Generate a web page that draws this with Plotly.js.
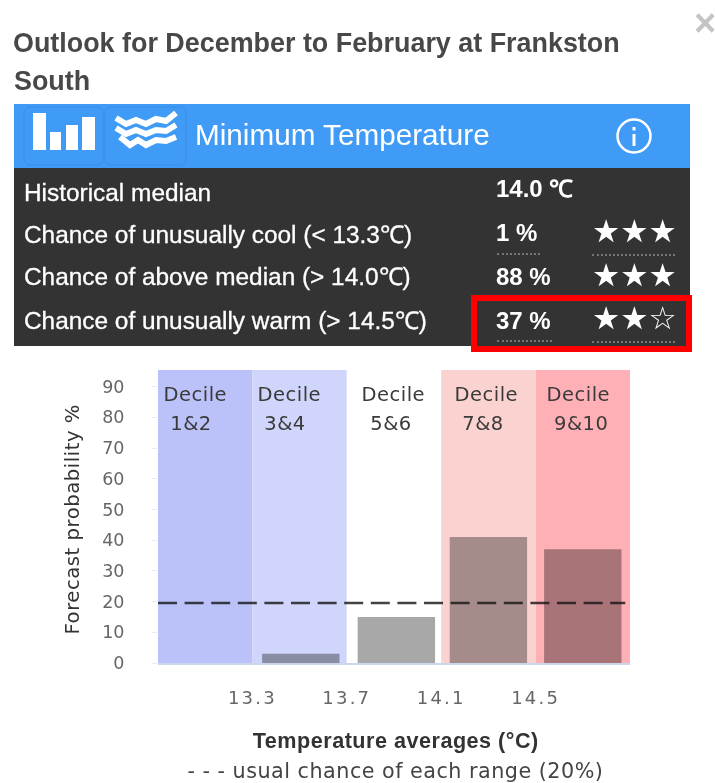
<!DOCTYPE html>
<html><head><meta charset="utf-8">
<script src="https://cdn.plot.ly/plotly-3.0.1.min.js"></script>
<style>
html,body{margin:0;padding:0;background:#fff;width:715px;height:783px;overflow:hidden;font-family:"Liberation Sans",sans-serif}
#page{position:absolute;left:0;top:0;width:715px;height:783px;filter:blur(0.6px)}
.t{position:absolute;white-space:nowrap;line-height:1}
.row{-webkit-text-stroke:0.3px #fff}
#chart{position:absolute;left:0;top:360px;width:715px;height:423px}
.dot{position:absolute;height:0;border-top:2px dotted #777}
#chart .xtick text{letter-spacing:2.2px}
#chart .annotation-text{letter-spacing:0.5px}
</style></head><body>
<div id="page">
<div class="t" style="left:13px;top:30px;font-size:26.9px;font-weight:bold;color:#484848">Outlook for December to February at Frankston</div>
<div class="t" style="left:14px;top:68px;font-size:26.9px;font-weight:bold;color:#484848">South</div>
<div class="t" style="left:694px;top:4px;font-size:38px;font-weight:bold;color:#c4c4c4">×</div>
<div style="position:absolute;left:14px;top:104px;width:676px;height:64px;background:#3f9bf5"></div>
<div style="position:absolute;left:14px;top:168px;width:676px;height:178px;background:#333"></div>
<svg style="position:absolute;left:14px;top:104px" width="676" height="64">
  <rect x="10" y="3" width="79" height="58" rx="6" fill="none" stroke="#3a8fe3"/>
  <rect x="91" y="3" width="81" height="58" rx="6" fill="none" stroke="#3a8fe3"/>
  <g fill="#fff"><rect x="19" y="9" width="13" height="37"/><rect x="36" y="28" width="11" height="18"/><rect x="52" y="21" width="12" height="25"/><rect x="68" y="13" width="13" height="33"/></g>
  <g fill="none" stroke="#fff" stroke-width="6">
    <path d="M102 14 L112 20 L122 16 L132 20 L142 15 L152 17 L162 9"/>
    <path d="M102 24 L112 30 L122 26 L132 30 L142 26 L152 27 L162 21"/>
    <path d="M106 33 L116 41 L124 36 L132 41 L142 36 L152 37 L162 33"/>
  </g>
  <circle cx="620" cy="32" r="16.5" fill="none" stroke="#fff" stroke-width="2.5"/>
  <rect x="618.5" y="30" width="3" height="12" fill="#fff"/><rect x="618.5" y="23" width="3" height="3.5" fill="#fff"/>
</svg>
<div class="t" style="left:195px;top:120px;font-size:29.7px;color:#fff">Minimum Temperature</div>
<div class="t row" style="left:24px;top:181px;font-size:24.4px;color:#fff">Historical median</div>
<div class="t row" style="left:24px;top:223px;font-size:24.4px;color:#fff">Chance of unusually cool (&lt; 13.3℃)</div>
<div class="t row" style="left:24px;top:265px;font-size:24.4px;color:#fff">Chance of above median (&gt; 14.0℃)</div>
<div class="t row" style="left:24px;top:309px;font-size:24.4px;color:#fff">Chance of unusually warm (&gt; 14.5℃)</div>
<div class="t" style="left:496px;top:177px;font-size:24px;font-weight:bold;color:#fff">14.0 ℃</div>
<div class="t" style="left:496px;top:221px;font-size:24px;font-weight:bold;color:#fff">1 %</div>
<div class="t" style="left:496px;top:265px;font-size:24px;font-weight:bold;color:#fff">88 %</div>
<div class="t" style="left:496px;top:309px;font-size:24px;font-weight:bold;color:#fff">37 %</div>
<div class="t" style="left:592px;top:216px;font-size:31.5px;color:#fff;font-family:'DejaVu Sans'">★★★</div>
<div class="t" style="left:592px;top:260px;font-size:31.5px;color:#fff;font-family:'DejaVu Sans'">★★★</div>
<div class="t" style="left:592px;top:303px;font-size:31.5px;color:#fff;font-family:'DejaVu Sans'">★★☆</div>
<div class="dot" style="left:497px;top:253px;width:43px"></div>
<div class="dot" style="left:592px;top:254px;width:83px"></div>
<div class="dot" style="left:497px;top:340px;width:55px"></div>
<div class="dot" style="left:592px;top:341px;width:83px"></div>
<div style="position:absolute;left:471px;top:295px;width:209px;height:45px;border:6px solid #f00"></div>
<div id="chart"></div>
</div>
<script>
// ---- data ----
const barCenters = [13.1, 13.505, 13.91, 14.3, 14.7];
const forecast = [0, 3, 15, 41, 37];
const bandEdges = [12.9, 13.3, 13.7, 14.1, 14.5, 14.9];
const bandColors = ['#bac2f9', '#d0d5fb', '#ffffff', '#fad3d0', '#ffb0b6'];
const decileTop = ['Decile', 'Decile', 'Decile', 'Decile', 'Decile'];
const decileBottom = ['1&2', '3&4', '5&6', '7&8', '9&10'];
const decileTopPx = [195, 289, 393, 486, 578];
const decileBottomPx = [191, 285, 391, 483, 581];
const xTicks = [13.3, 13.7, 14.1, 14.5];
const xTickText = ['13.3', '13.7', '14.1', '14.5'];
const yTicks = [0, 10, 20, 30, 40, 50, 60, 70, 80, 90];
const usualX = [12.9, 14.88];
const usualY = [19.5, 19.5];

// page pixel -> paper fraction (plot area spans x 158..630, y 370..663)
const px = x => (x - 158) / 472;
const py = y => (663 - y) / 293;

const shapes = bandColors.map((c, i) => ({
  type: 'rect', layer: 'below', xref: 'x', yref: 'paper',
  x0: bandEdges[i], x1: bandEdges[i + 1], y0: 0, y1: 1, fillcolor: c, line: {width: 0}
}));

const mono = 'DejaVu Sans, sans-serif';
const annotations = [];
decileTop.forEach((t, i) => annotations.push({text: t, xref: 'paper', yref: 'paper', x: px(decileTopPx[i]), y: py(394), showarrow: false, xanchor: 'center', yanchor: 'middle', font: {family: mono, size: 19.5, color: '#3a3a3a'}}));
decileBottom.forEach((t, i) => annotations.push({text: t, xref: 'paper', yref: 'paper', x: px(decileBottomPx[i]), y: py(424), showarrow: false, xanchor: 'center', yanchor: 'middle', font: {family: mono, size: 19.5, color: '#3a3a3a'}}));
annotations.push({text: 'Temperature averages (°C)', xref: 'paper', yref: 'paper', x: px(395), y: py(740), showarrow: false, xanchor: 'center', yanchor: 'middle', font: {family: 'Liberation Sans, sans-serif', size: 21.6, color: '#333', weight: 'bold'}});
annotations.push({text: '- - - usual chance of each range (20%)', xref: 'paper', yref: 'paper', x: px(395), y: py(771), showarrow: false, xanchor: 'center', yanchor: 'middle', font: {family: mono, size: 20.7, color: '#444'}});
annotations.push({text: 'Forecast probability %', xref: 'paper', yref: 'paper', x: px(72), y: py(519), textangle: -90, showarrow: false, xanchor: 'center', yanchor: 'middle', font: {family: mono, size: 19.7, color: '#333'}});

Plotly.newPlot('chart', [
  {type: 'bar', x: barCenters, y: forecast, width: 0.328, marker: {color: 'rgba(0,0,0,0.34)', line: {width: 0}}, hoverinfo: 'skip'},
  {type: 'scatter', mode: 'lines', x: usualX, y: usualY, line: {color: 'rgba(20,20,20,0.8)', width: 2.5, dash: '19px,7.6px'}, hoverinfo: 'skip'}
], {
  width: 715, height: 423,
  margin: {l: 158, r: 85, t: 10, b: 120, pad: 0},
  paper_bgcolor: 'rgba(0,0,0,0)', plot_bgcolor: 'rgba(0,0,0,0)',
  showlegend: false,
  shapes, annotations,
  xaxis: {
    range: [12.9, 14.9], tickmode: 'array', tickvals: xTicks, ticktext: xTickText,
    showgrid: false, zeroline: false, showline: true, linecolor: '#ccd6eb', linewidth: 2,
    ticks: '', ticklabelstandoff: 17, tickfont: {family: mono, size: 18, color: '#666'}
  },
  yaxis: {
    range: [0, 95.4], tickmode: 'array', tickvals: yTicks,
    showgrid: false, zeroline: false, showline: false,
    ticks: 'outside', ticklen: 5, tickcolor: '#e6ebf5', tickwidth: 1,
    ticklabelstandoff: 24, tickfont: {family: mono, size: 17.5, color: '#666'}
  }
}, {displayModeBar: false, staticPlot: true});
</script>
</body></html>
